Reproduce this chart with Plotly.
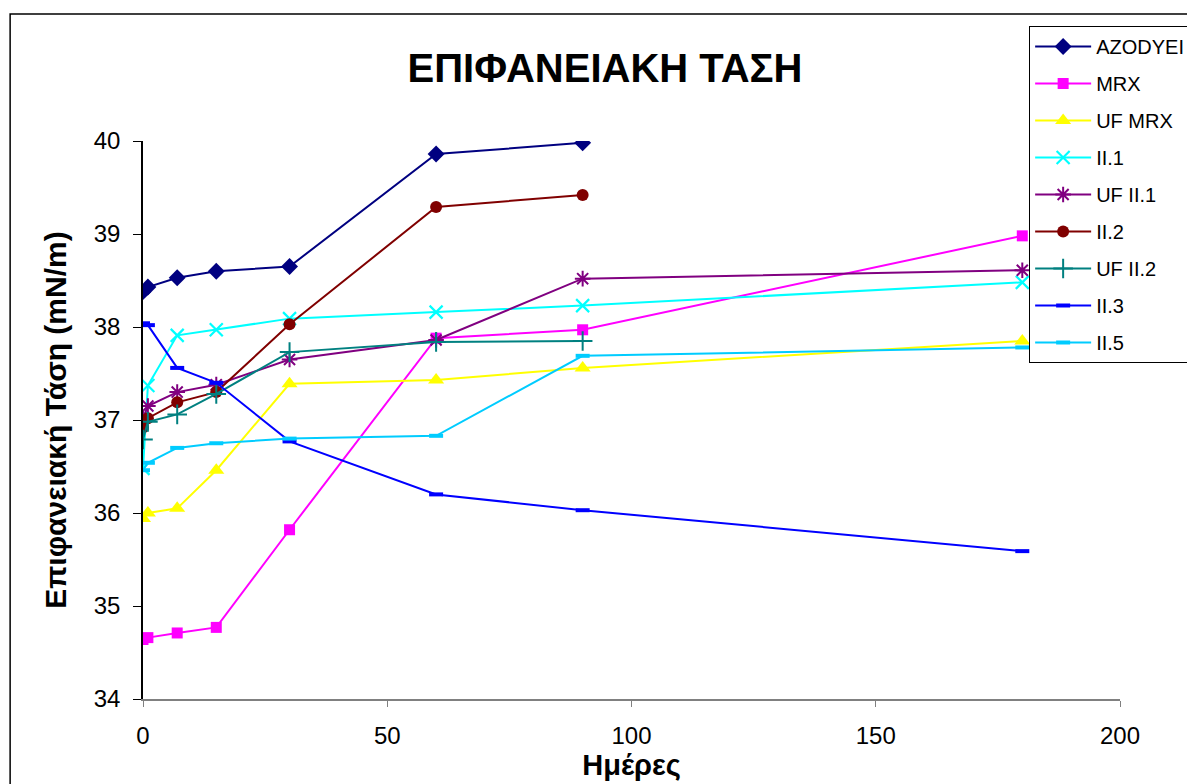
import plotly.graph_objects as go

# Days of measurement
days = [0, 1, 7, 15, 30, 60, 90, 180]

# Surface tension (mN/m) per sample
azodye = [38.38, 38.43, 38.53, 38.60, 38.65, 39.86, 39.98]
mrx = [34.64, 34.66, 34.71, 34.77, 35.82, 37.88, 37.97, 38.98]
uf_mrx = [35.94, 36.00, 36.05, 36.46, 37.39, 37.43, 37.56, 37.85]
ii1 = [36.48, 37.37, 37.91, 37.97, 38.09, 38.16, 38.23, 38.48]
uf_ii1 = [37.02, 37.15, 37.30, 37.38, 37.65, 37.86, 38.52, 38.61]
ii2 = [36.92, 37.02, 37.19, 37.30, 38.03, 39.29, 39.42]
uf_ii2 = [36.79, 36.98, 37.06, 37.28, 37.73, 37.84, 37.85]
ii3 = [38.04, 38.02, 37.56, 37.40, 36.77, 36.20, 36.03, 35.59]
ii5 = [36.46, 36.54, 36.70, 36.75, 36.80, 36.83, 37.69, 37.78]

names = ["AZODYEI", "MRX", "UF MRX", "II.1", "UF II.1", "II.2", "UF II.2", "II.3", "II.5"]
y_ticks = [34, 35, 36, 37, 38, 39, 40]
x_ticks = [0, 50, 100, 150, 200]

FONT = "Liberation Sans, Arial, sans-serif"

series = [
    (names[0], azodye, "#000080", dict(symbol="diamond", size=13)),
    (names[1], mrx, "#FF00FF", dict(symbol="square", size=11)),
    (names[2], uf_mrx, "#FFFF00", dict(symbol="triangle-up", size=14)),
    (names[3], ii1, "#00FFFF", dict(symbol="x-thin-open", size=13, line=dict(width=2.2, color="#00FFFF"))),
    (names[4], uf_ii1, "#800080", dict(symbol="asterisk-open", size=13, line=dict(width=2, color="#800080"))),
    (names[5], ii2, "#800000", dict(symbol="circle", size=12)),
    (names[6], uf_ii2, "#008080", dict(symbol="cross-thin-open", size=14, line=dict(width=2, color="#008080"))),
    (names[7], ii3, "#0000FF", dict(symbol="line-ew-open", size=10, line=dict(width=4, color="#0000FF"))),
    (names[8], ii5, "#00CCFF", dict(symbol="line-ew-open", size=10, line=dict(width=4, color="#00CCFF"))),
]

fig = go.Figure()
for i, (name, vals, color, marker) in enumerate(series):
    marker = dict(marker)
    marker.setdefault("color", color)
    fig.add_trace(go.Scatter(
        x=days[:len(vals)], y=vals, name=name, mode="lines+markers",
        line=dict(color=color, width=2), marker=marker,
        legendgroup=f"g{i}",
    ))

# Outer chart frame
fig.add_shape(type="rect", xref="paper", yref="paper",
              x0=-0.136, x1=1.3, y0=-0.3, y1=1.2276,
              line=dict(color="black", width=1.5), layer="below")

fig.update_layout(
    width=1187, height=784,
    margin=dict(l=143, r=67, t=141, b=85, autoexpand=False),
    paper_bgcolor="white", plot_bgcolor="white",
    font=dict(family=FONT, color="black", size=24),
    title=dict(text="<b>ΕΠΙΦΑΝΕΙΑΚΗ ΤΑΣΗ</b>", font=dict(size=40, family=FONT),
               x=605 / 1187, xanchor="center", y=1 - 68 / 784, yanchor="middle"),
    showlegend=True,
    legend=dict(x=0.907, y=1.206, xanchor="left", yanchor="top",
                bgcolor="white", bordercolor="black", borderwidth=1,
                font=dict(size=20, family=FONT), tracegroupgap=8,
                itemwidth=56),
    xaxis=dict(range=[0, 200], tickvals=x_ticks, showgrid=False, zeroline=False,
               showline=True, linecolor="#808080", linewidth=1.5,
               ticks="outside", ticklen=6, tickcolor="#808080",
               ticklabelstandoff=8,
               title=dict(text="<b>Ημέρες</b>", font=dict(size=29), standoff=0)),
    yaxis=dict(range=[34, 40], tickvals=y_ticks, showgrid=False, zeroline=False,
               showline=True, linecolor="black", linewidth=1.5,
               ticks="outside", ticklen=8, tickcolor="black",
               ticklabelstandoff=8,
               title=dict(text="<b>Επιφανειακή Τάση (mN/m)</b>", font=dict(size=30), standoff=18)),
)

fig.write_html("out.html")
